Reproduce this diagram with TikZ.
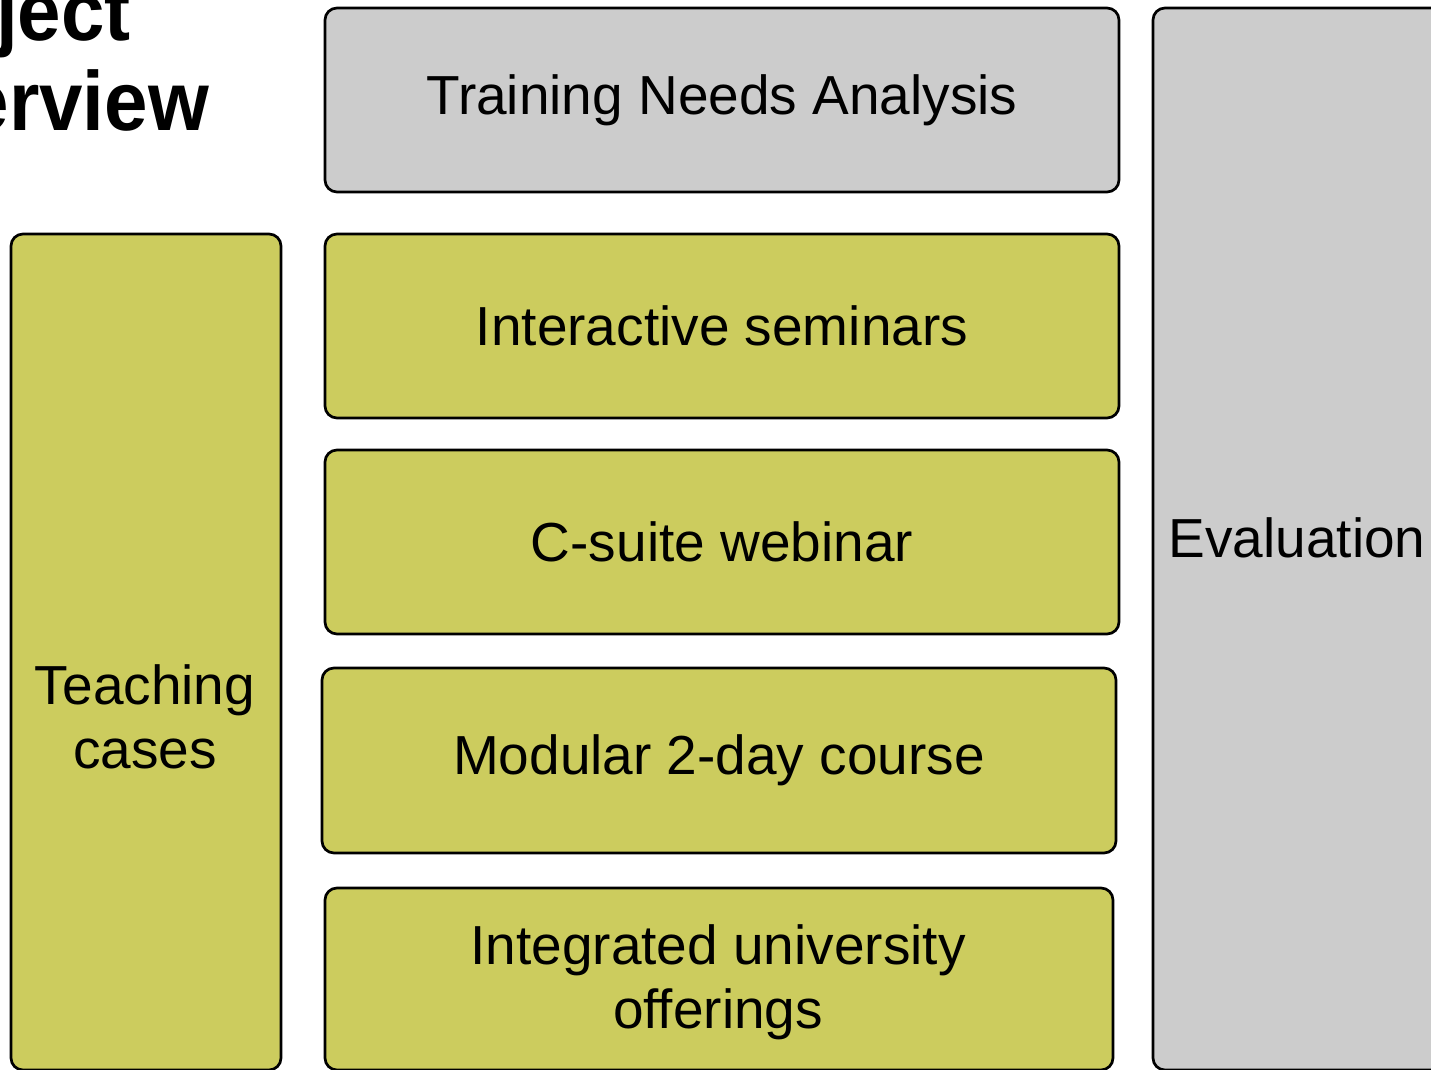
\documentclass[tikz,border=0pt]{standalone}
\usepackage{fontspec}
\usepackage{graphicx}
\setmainfont{Liberation Sans}
\definecolor{olivefill}{RGB}{204,204,94}
\definecolor{greyfill}{RGB}{204,204,204}
\begin{document}
\begin{tikzpicture}[x=1pt,y=-1pt,
  box/.style={draw=black, line width=2.7pt, rounded corners=12pt, inner sep=0pt, align=center, font=\fontsize{55}{64}\selectfont},
  olivebox/.style={box, fill=olivefill},
  greybox/.style={box, fill=greyfill},
  lbl/.style={inner sep=0pt, align=center, font=\fontsize{55}{64}\selectfont},
  ttl/.style={inner sep=0pt, font=\bfseries\fontsize{84}{96}\selectfont}]
\useasboundingbox (0,0) rectangle (1431,1069);
\clip (0,0) rectangle (1431,1069);
\fill[white] (0,0) rectangle (1431,1069);
% title
\node[ttl, anchor=base east] (t1) at (131,40) {\scalebox{0.93}[1]{Project}};
\node[ttl, anchor=base east] (t2) at (209,130) {\scalebox{0.93}[1]{Overview}};
% middle column
\node[greybox, minimum width=794pt, minimum height=184pt] (tna) at (722,100) {Training Needs Analysis};
\node[olivebox, minimum width=794pt, minimum height=184pt] (sem) at (722,326) {Interactive seminars};
\node[olivebox, minimum width=794pt, minimum height=184pt] (cs) at (722,542) {C-suite webinar};
\node[olivebox, minimum width=794pt, minimum height=185pt] (mod) at (719,760.5) {Modular 2-day course};
\node[olivebox, minimum width=788pt, minimum height=182pt] (int) at (719,979) {};
\node[lbl] (intl) at (718,982) {Integrated university\\offerings};
% left column
\node[olivebox, minimum width=270pt, minimum height=836pt] (teach) at (146,652) {};
\node[lbl] (teachl) at (145,717) {Teaching\\cases};
% right column
\node[greybox, minimum width=292pt, minimum height=1062pt] (eval) at (1299,539) {};
\node[lbl] (evall) at (1297,538) {Evaluation};
\end{tikzpicture}
\end{document}
